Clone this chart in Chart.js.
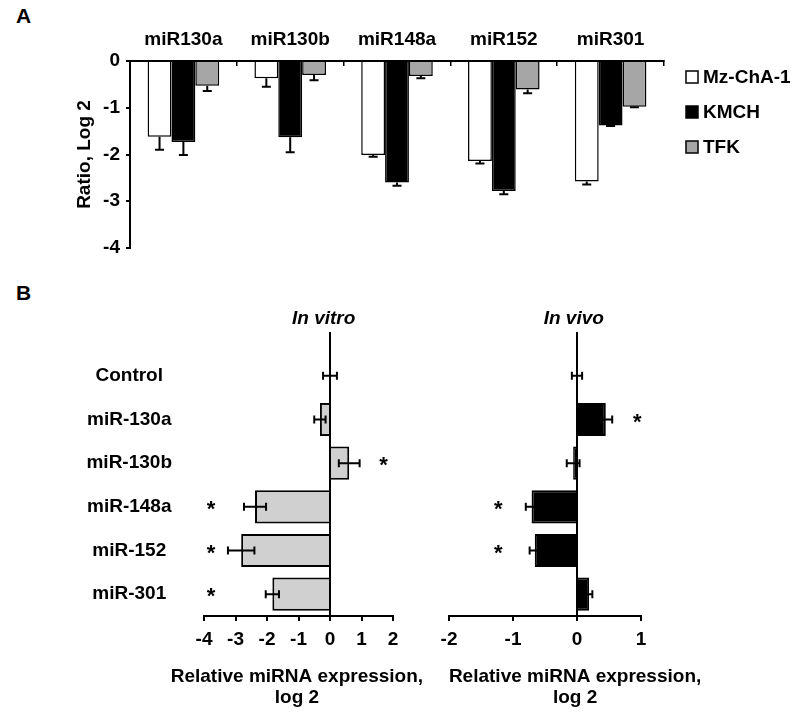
<!DOCTYPE html>
<html>
<head>
<meta charset="utf-8">
<script src="https://cdn.jsdelivr.net/npm/chart.js@4"></script>
<style>
    body { margin: 0; background: #fff; }
    #wrap { position: relative; width: 800px; height: 718px; }
    canvas, .tag { position: absolute; }
    .tag { font: bold 21px "Liberation Sans", Arial, sans-serif; color: #000; }
</style>
</head>
<body>
<div id="wrap">
    <div class="tag" style="left:16px;top:4px">A</div>
    <div class="tag" style="left:16px;top:281px">B</div>
    <canvas id="chartA" width="800" height="270" style="left:0;top:0"></canvas>
    <canvas id="chartVitro" width="390" height="428" style="left:60px;top:290px"></canvas>
    <canvas id="chartVivo" width="380" height="428" style="left:420px;top:290px"></canvas>
</div>
<script>
// panel A: ratio (log 2) per cell line
const mirsA = ['miR130a', 'miR130b', 'miR148a', 'miR152', 'miR301']
const mzcha = [-1.62, -0.37, -2.01, -2.14, -2.58]
const mzchaErr = [0.28, 0.18, 0.04, 0.05, 0.06]
const kmch = [-1.73, -1.63, -2.60, -2.78, -1.38]
const kmchErr = [0.28, 0.32, 0.07, 0.07, 0.01]
const tfk = [-0.53, -0.30, -0.32, -0.61, -0.98]
const tfkErr = [0.11, 0.11, 0.05, 0.08, 0.01]
const ticksA = [0, -1, -2, -3, -4]

// panel B: relative miRNA expression (log 2)
const rowsB = ['Control', 'miR-130a', 'miR-130b', 'miR-148a', 'miR-152', 'miR-301']
const vitro = [0, -0.32, 0.61, -2.38, -2.82, -1.83]
const vitroErr = [0.22, 0.18, 0.33, 0.35, 0.42, 0.21]
const vitroSig = [false, false, true, true, true, true]
const vivo = [0, 0.45, -0.06, -0.71, -0.66, 0.19]
const vivoErr = [0.08, 0.10, 0.10, 0.09, 0.08, 0.05]
const vivoSig = [false, true, false, true, true, false]
const ticksVitro = [-4, -3, -2, -1, 0, 1, 2]
const ticksVivo = [-2, -1, 0, 1]

const FONT = "'Liberation Sans', Arial, sans-serif"
Chart.defaults.font.family = FONT
Chart.defaults.color = '#000'
const bold19 = {size: 19, weight: 'bold', lineHeight: 1.15}

const errorBars = {
    id: 'errorBars',
    afterDatasetsDraw(chart, args, opts) {
        const {ctx} = chart
        const horiz = chart.options.indexAxis === 'y'
        const vs = horiz ? chart.scales.x : chart.scales.y
        ctx.save()
        ctx.strokeStyle = '#000'
        ctx.lineWidth = 2
        chart.data.datasets.forEach((ds, di) => {
            if (!ds.errors) return
            chart.getDatasetMeta(di).data.forEach((bar, i) => {
                const v = ds.data[i], e = ds.errors[i]
                if (v == null || e == null) return
                const sign = v < 0 ? -1 : 1
                const a = opts.oneSided ? v : v - e
                const b = opts.oneSided ? v + sign * e : v + e
                const p1 = vs.getPixelForValue(a), p2 = vs.getPixelForValue(b)
                const c = horiz ? bar.y : bar.x
                const h = opts.cap
                ctx.beginPath()
                if (horiz) {
                    ctx.moveTo(p1, c); ctx.lineTo(p2, c)
                    ctx.moveTo(p2, c - h); ctx.lineTo(p2, c + h)
                    if (!opts.oneSided) { ctx.moveTo(p1, c - h); ctx.lineTo(p1, c + h) }
                } else {
                    ctx.moveTo(c, p1); ctx.lineTo(c, p2)
                    ctx.moveTo(c - h, p2); ctx.lineTo(c + h, p2)
                    if (!opts.oneSided) { ctx.moveTo(c - h, p1); ctx.lineTo(c + h, p1) }
                }
                ctx.stroke()
            })
        })
        ctx.restore()
    }
}

const sideLegend = {
    id: 'sideLegend',
    afterDraw(chart, args, opts) {
        if (!opts.show) return
        const {ctx} = chart
        ctx.save()
        ctx.font = `bold 19px ${FONT}`
        ctx.textBaseline = 'middle'
        chart.data.datasets.forEach((ds, i) => {
            const cy = opts.top + i * opts.spacing
            ctx.fillStyle = ds.backgroundColor
            ctx.fillRect(opts.left, cy - 6, 12, 12)
            ctx.strokeStyle = '#000'
            ctx.lineWidth = 1.5
            ctx.strokeRect(opts.left, cy - 6, 12, 12)
            ctx.fillStyle = '#000'
            ctx.fillText(ds.label, opts.left + 17, cy + 1)
        })
        ctx.restore()
    }
}

// zero line, italic heading, two-line caption and significance stars for panel B
const panelB = {
    id: 'panelB',
    afterDraw(chart, args, opts) {
        if (!opts.show) return
        const {ctx, chartArea, scales: {x, y}} = chart
        const zx = x.getPixelForValue(0)
        ctx.save()
        ctx.strokeStyle = '#000'
        ctx.lineWidth = 2
        ctx.beginPath()
        ctx.moveTo(zx, opts.lineTop)
        ctx.lineTo(zx, chartArea.bottom)
        ctx.stroke()
        ctx.fillStyle = '#000'
        ctx.textAlign = 'center'
        ctx.textBaseline = 'middle'
        ctx.font = `italic bold 19px ${FONT}`
        ctx.fillText(opts.title, x.getPixelForValue(opts.titleAt), opts.titleY)
        ctx.font = `bold 19px ${FONT}`
        opts.caption.forEach((line, k) => {
            ctx.fillText(line, x.getPixelForValue(opts.captionAt), opts.captionY + k * 21)
        })
        ctx.font = `bold 22px ${FONT}`
        ctx.textBaseline = 'alphabetic'
        const ds = chart.data.datasets[0]
        opts.sig.forEach((s, i) => {
            if (!s) return
            const at = ds.data[i] > 0 ? opts.starRight : opts.starLeft
            ctx.fillText('*', x.getPixelForValue(at), y.getPixelForValue(i) + 9)
        })
        ctx.restore()
    }
}

Chart.register(errorBars, sideLegend, panelB)

new Chart(document.getElementById('chartA'), {
    type: 'bar',
    data: {
        labels: mirsA,
        datasets: [
            {label: 'Mz-ChA-1', data: mzcha, errors: mzchaErr, backgroundColor: '#ffffff', borderColor: '#000', borderWidth: 1.5},
            {label: 'KMCH', data: kmch, errors: kmchErr, backgroundColor: '#000000', borderColor: '#000', borderWidth: 1.5},
            {label: 'TFK', data: tfk, errors: tfkErr, backgroundColor: '#a6a6a6', borderColor: '#000', borderWidth: 1.5},
        ]
    },
    options: {
        responsive: false,
        animation: false,
        layout: {padding: {right: 136, bottom: 22}},
        datasets: {bar: {categoryPercentage: 0.67, barPercentage: 1}},
        plugins: {
            legend: {display: false},
            tooltip: {enabled: false},
            errorBars: {oneSided: true, cap: 4.5},
            sideLegend: {show: true, left: 686, top: 77, spacing: 35},
        },
        scales: {
            x: {
                position: 'top',
                ticks: {font: bold19, padding: 15},
                grid: {drawOnChartArea: false, color: '#000', lineWidth: 1.5, tickLength: -5},
                border: {color: '#000', width: 2},
                afterFit(s) { s.height = 61 },
            },
            y: {
                min: ticksA[ticksA.length - 1],
                max: ticksA[0],
                afterBuildTicks(s) { s.ticks = ticksA.map(v => ({value: v})) },
                ticks: {font: bold19, padding: 6},
                grid: {drawOnChartArea: false, color: '#000', lineWidth: 2, tickLength: 4},
                border: {color: '#000', width: 2},
                title: {display: true, text: 'Ratio, Log 2', font: bold19, padding: {top: 74, bottom: 0}},
                afterFit(s) { s.width = 130 },
            }
        }
    }
})

function panelOptions(ticks, yWidth, padRight, showLabels, extra) {
    return {
        indexAxis: 'y',
        responsive: false,
        animation: false,
        layout: {padding: {top: 64, right: padRight}},
        datasets: {bar: {categoryPercentage: 1, barPercentage: 0.76}},
        plugins: {
            legend: {display: false},
            tooltip: {enabled: false},
            errorBars: {oneSided: false, cap: 4},
            panelB: Object.assign({show: true, lineTop: 42, titleY: 29, captionY: 387}, extra),
        },
        scales: {
            x: {
                min: ticks[0],
                max: ticks[ticks.length - 1],
                afterBuildTicks(s) { s.ticks = ticks.map(v => ({value: v})) },
                ticks: {font: bold19, padding: 8},
                grid: {drawOnChartArea: false, color: '#000', lineWidth: 2, tickLength: 5},
                border: {color: '#000', width: 2},
                afterFit(s) { s.height = 102 },
            },
            y: {
                ticks: {display: showLabels, font: bold19, crossAlign: 'center', padding: 24},
                grid: {display: false},
                border: {display: false},
                afterFit(s) { s.width = yWidth },
            }
        }
    }
}

const caption = ['Relative miRNA expression,', 'log 2']

new Chart(document.getElementById('chartVitro'), {
    type: 'bar',
    data: {
        labels: rowsB,
        datasets: [{data: vitro, errors: vitroErr, backgroundColor: '#d0d0d0', borderColor: '#000', borderWidth: 2}]
    },
    options: panelOptions(ticksVitro, 144, 57, true,
        {title: 'In vitro', titleAt: -0.2, caption: caption, captionAt: -1.05, sig: vitroSig, starLeft: -3.78, starRight: 1.7})
})

new Chart(document.getElementById('chartVivo'), {
    type: 'bar',
    data: {
        labels: rowsB,
        datasets: [{data: vivo, errors: vivoErr, backgroundColor: '#000000', borderColor: '#000', borderWidth: 2}]
    },
    options: panelOptions(ticksVivo, 29, 159, false,
        {title: 'In vivo', titleAt: -0.05, caption: caption, captionAt: -0.03, sig: vivoSig, starLeft: -1.23, starRight: 0.94})
})
</script>
</body>
</html>
